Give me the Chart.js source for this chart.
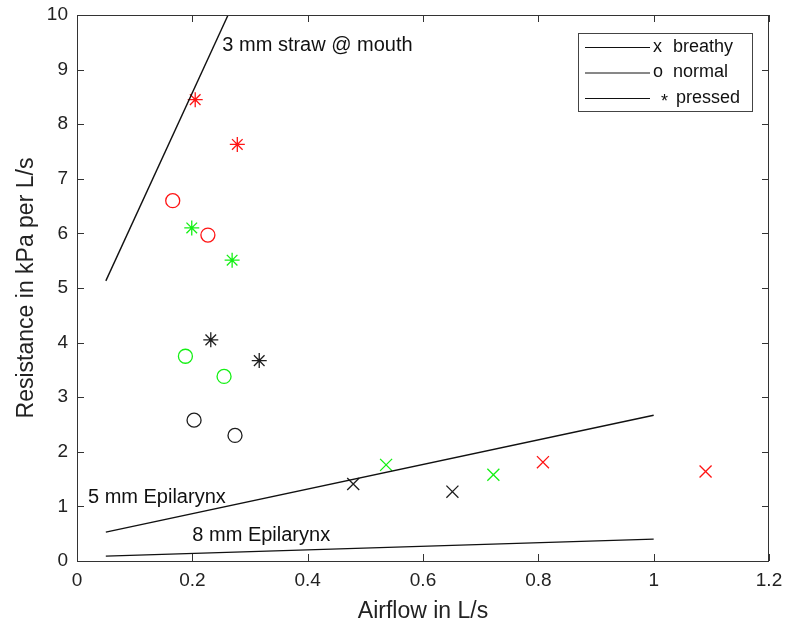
<!DOCTYPE html>
<html lang="en">
<head>
    <meta charset="UTF-8" />
    <title>Resistance vs Airflow</title>
    <script src="https://cdn.jsdelivr.net/npm/chart.js"></script>
    <style>
      body { margin: 0; background: #fff; }
      #wrap { width: 786px; height: 628px; }
    </style>
</head>
<body>
    <div id="wrap"><canvas id="chart" width="786" height="628"></canvas></div>

    <script>
      // measured points (airflow L/s, resistance kPa per L/s)
      const redPressedX = [0.205, 0.278];
      const redPressedY = [8.45, 7.63];
      const redNormalX = [0.166, 0.227];
      const redNormalY = [6.60, 5.97];
      const redBreathyX = [0.808, 1.09];
      const redBreathyY = [1.81, 1.64];

      const greenPressedX = [0.199, 0.269];
      const greenPressedY = [6.10, 5.51];
      const greenNormalX = [0.188, 0.255];
      const greenNormalY = [3.75, 3.38];
      const greenBreathyX = [0.536, 0.722];
      const greenBreathyY = [1.76, 1.58];

      const blackPressedX = [0.232, 0.316];
      const blackPressedY = [4.05, 3.67];
      const blackNormalX = [0.203, 0.274];
      const blackNormalY = [2.58, 2.30];
      const blackBreathyX = [0.479, 0.651];
      const blackBreathyY = [1.41, 1.27];

      // reference lines
      const strawX = [0.05, 0.262];
      const strawY = [5.13, 10];
      const epi5X = [0.05, 1];
      const epi5Y = [0.53, 2.67];
      const epi8X = [0.05, 1];
      const epi8Y = [0.09, 0.40];

      const xTicks = [0, 0.2, 0.4, 0.6, 0.8, 1, 1.2];
      const yTicks = [0, 1, 2, 3, 4, 5, 6, 7, 8, 9, 10];
      const legendMarks = ['x', 'o', '*'];
      const legendNames = ['breathy', 'normal', 'pressed'];

      const FONT = '"Liberation Sans", Arial, sans-serif';
      const RED = 'rgb(255,20,20)';
      const GREEN = 'rgb(20,240,20)';
      const BLACK = 'rgb(30,30,30)';

      function pts(xs, ys) {
        return xs.map((x, i) => ({x: x, y: ys[i]}));
      }

      function markerSet(xs, ys, color, style) {
        const r = style === 'circle' ? 7 : (style === 'star' ? 7.5 : 8.5);
        return {
          data: pts(xs, ys),
          showLine: false,
          pointStyle: style,
          pointRadius: r,
          pointHoverRadius: r,
          borderColor: color,
          backgroundColor: 'rgba(0,0,0,0)',
          pointBorderWidth: 1.3
        };
      }

      function lineSet(xs, ys) {
        return {
          data: pts(xs, ys),
          showLine: true,
          pointRadius: 0,
          borderColor: '#111',
          borderWidth: 1.4
        };
      }

      // annotation text, inward ticks, box and legend
      const decor = {
        id: 'decor',
        afterDraw(chart) {
          const {ctx, chartArea: a, scales: {x, y}} = chart;
          ctx.save();
          ctx.strokeStyle = '#333';
          ctx.lineWidth = 1;
          ctx.strokeRect(a.left + 0.5, a.top + 0.5, a.right - a.left - 1, a.bottom - a.top);
          ctx.beginPath();
          xTicks.forEach(t => {
            const px = Math.round(x.getPixelForValue(t)) + 0.5;
            ctx.moveTo(px, a.bottom); ctx.lineTo(px, a.bottom - 7);
            ctx.moveTo(px, a.top); ctx.lineTo(px, a.top + 7);
          });
          yTicks.forEach(t => {
            const py = Math.round(y.getPixelForValue(t)) + 0.5;
            ctx.moveTo(a.left, py); ctx.lineTo(a.left + 7, py);
            ctx.moveTo(a.right, py); ctx.lineTo(a.right - 7, py);
          });
          ctx.stroke();

          ctx.fillStyle = '#111';
          ctx.font = '20px ' + FONT;
          ctx.textBaseline = 'middle';
          ctx.fillText('3 mm straw @ mouth', x.getPixelForValue(0.252), y.getPixelForValue(9.44));
          ctx.fillText('5 mm Epilarynx', x.getPixelForValue(0.019), y.getPixelForValue(1.17));
          ctx.fillText('8 mm Epilarynx', x.getPixelForValue(0.2), y.getPixelForValue(0.47));

          // legend box
          const lx = a.right - 191, ly = a.top + 18, lw = 174, lh = 78;
          ctx.strokeStyle = '#444';
          ctx.strokeRect(lx + 0.5, ly + 0.5, lw, lh);
          ctx.font = '18px ' + FONT;
          ctx.strokeStyle = '#111';
          legendNames.forEach((name, i) => {
            const yy = ly + 14 + i * 25.5;
            ctx.beginPath();
            ctx.moveTo(lx + 7, yy + 0.5); ctx.lineTo(lx + 72, yy + 0.5);
            ctx.stroke();
            const mx = i === 2 ? lx + 83 : lx + 75;
            ctx.fillText(legendMarks[i], mx, i === 2 ? yy + 4 : yy);
            ctx.fillText(name, i === 2 ? lx + 98 : lx + 95, yy);
          });
          ctx.restore();
        }
      };

      const ctx = document.getElementById('chart');
      const myChart = new Chart(ctx, {
        type: 'scatter',
        data: {
          datasets: [
            lineSet(strawX, strawY),
            lineSet(epi5X, epi5Y),
            lineSet(epi8X, epi8Y),
            markerSet(redPressedX, redPressedY, RED, 'star'),
            markerSet(redNormalX, redNormalY, RED, 'circle'),
            markerSet(redBreathyX, redBreathyY, RED, 'crossRot'),
            markerSet(greenPressedX, greenPressedY, GREEN, 'star'),
            markerSet(greenNormalX, greenNormalY, GREEN, 'circle'),
            markerSet(greenBreathyX, greenBreathyY, GREEN, 'crossRot'),
            markerSet(blackPressedX, blackPressedY, BLACK, 'star'),
            markerSet(blackNormalX, blackNormalY, BLACK, 'circle'),
            markerSet(blackBreathyX, blackBreathyY, BLACK, 'crossRot')
          ]
        },
        options: {
          responsive: false,
          animation: false,
          layout: { padding: { top: 15, right: 17, left: 0, bottom: 0 } },
          plugins: { legend: { display: false }, tooltip: { enabled: false } },
          scales: {
            x: {
              type: 'linear', min: 0, max: 1.2,
              afterBuildTicks: s => { s.ticks = xTicks.map(v => ({value: v})); },
              afterFit: s => { s.height = 67; s.paddingLeft = 0; s.paddingRight = 0; },
              grid: { display: false, drawTicks: false },
              border: { display: false },
              ticks: { color: '#222', font: { family: FONT, size: 19 }, padding: 8, maxRotation: 0,
                       callback: v => String(v) },
              title: { display: true, text: 'Airflow in L/s', color: '#222',
                       font: { family: FONT, size: 23 }, padding: { top: 0, bottom: 3 } }
            },
            y: {
              type: 'linear', min: 0, max: 10,
              afterBuildTicks: s => { s.ticks = yTicks.map(v => ({value: v})); },
              afterFit: s => { s.width = 77; s.paddingTop = 0; s.paddingBottom = 0; },
              grid: { display: false, drawTicks: false },
              border: { display: false },
              ticks: { color: '#222', font: { family: FONT, size: 19 }, padding: 9,
                       callback: v => String(v) },
              title: { display: true, text: 'Resistance in kPa per L/s', color: '#222',
                       font: { family: FONT, size: 23 }, padding: { top: 13, bottom: 0 } }
            }
          }
        },
        plugins: [decor]
      });
    </script>
</body>
</html>
